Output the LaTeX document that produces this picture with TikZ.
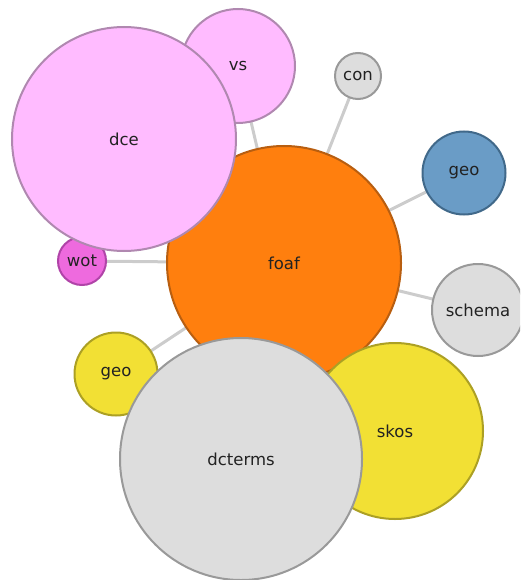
\documentclass[tikz,border=0pt]{standalone}
\usepackage{fontspec}
\setmainfont{DejaVu Sans}
\usetikzlibrary{backgrounds}
\definecolor{orfill}{HTML}{FF7F0E}\definecolor{ordraw}{HTML}{B85E10}
\definecolor{pkfill}{HTML}{FFBBFF}\definecolor{pkdraw}{HTML}{B088B0}
\definecolor{mgfill}{HTML}{EE6ADE}\definecolor{mgdraw}{HTML}{B044A8}
\definecolor{blfill}{HTML}{6A9CC6}\definecolor{bldraw}{HTML}{41698A}
\definecolor{gyfill}{HTML}{DDDDDD}\definecolor{gydraw}{HTML}{999999}
\definecolor{ylfill}{HTML}{F2E034}\definecolor{yldraw}{HTML}{ACA024}
\definecolor{linkc}{HTML}{CCCCCC}\definecolor{txt}{HTML}{222222}
\tikzset{
  bub/.style={circle, inner sep=0pt, line width=2pt, text=txt, font=\fontsize{16.5}{16.5}\selectfont, minimum size=#1},
  orb/.style={fill=orfill, draw=ordraw},
  pkb/.style={fill=pkfill, draw=pkdraw},
  mgb/.style={fill=mgfill, draw=mgdraw},
  blb/.style={fill=blfill, draw=bldraw},
  gyb/.style={fill=gyfill, draw=gydraw},
  ylb/.style={fill=ylfill, draw=yldraw},
  link/.style={draw=linkc, line width=3pt}
}
\begin{document}
\begin{tikzpicture}[x=1pt,y=-1pt]
\useasboundingbox (0,0) rectangle (520,580);
\clip (0,0) rectangle (520,580);
\node[bub=234pt, orb] (foaf) at (284,263) {foaf};
\node[bub=114pt, pkb] (vs) at (238,66) {vs};
\node[bub=48pt, mgb] (wot) at (82,261) {wot};
\node[bub=224pt, pkb] (dce) at (124,139) {dce};
\node[bub=46pt, gyb] (con) at (358,76) {con};
\node[bub=83pt, blb] (geo1) at (464,173) {geo};
\node[bub=92pt, gyb] (schema) at (478,310) {schema};
\node[bub=176pt, ylb] (skos) at (395,431) {skos};
\node[bub=83pt, ylb] (geo2) at (116,374) {geo};
\node[bub=242pt, gyb] (dcterms) at (241,459) {dcterms};
\begin{scope}[on background layer]
  \foreach \n in {vs,wot,dce,con,geo1,schema,skos,geo2,dcterms}
    \draw[link] (foaf.center) -- (\n.center);
\end{scope}
\end{tikzpicture}
\end{document}
